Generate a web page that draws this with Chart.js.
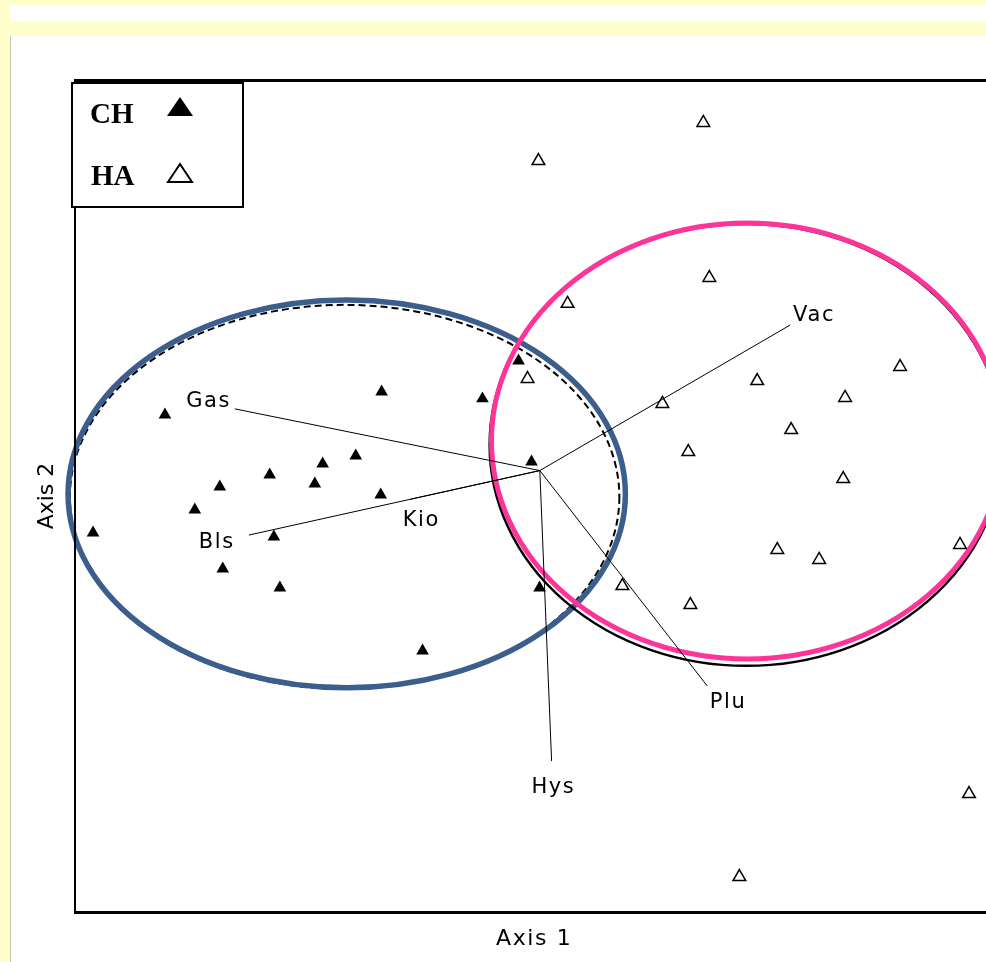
<!DOCTYPE html>
<html>
<head>
<meta charset="utf-8">
<script src="https://cdn.jsdelivr.net/npm/chart.js@4.4.1/dist/chart.umd.min.js"></script>
<style>
html, body { margin:0; padding:0; overflow:hidden; background:#ffffcc; width:986px; height:962px; }
#strip { position:absolute; left:10px; top:5px; right:0; height:16px; background:#fff; }
#panel { position:absolute; left:10px; top:36px; right:0; bottom:0; background:#fff; border-left:1px solid #c8c8b4; }
#wrap { position:absolute; left:0; top:0; width:1010px; height:962px; }
</style>
</head>
<body>
<div id="strip"></div>
<div id="panel"></div>
<div id="wrap"><canvas id="myChart" width="1010" height="962"></canvas></div>
<script>
// sample scores, axis 1 / axis 2
var chX = [-1.621, -0.684, -0.248, -0.092, -0.036, -0.796, -0.939, -1.168, -0.973, -1.384, -0.688, -1.492, -1.932, -1.150, -1.371, -1.124, -0.001, -0.507];
var chY = [0.241, 0.341, 0.311, 0.475, 0.038, 0.064, 0.029, -0.018, -0.057, -0.070, -0.105, -0.170, -0.269, -0.287, -0.425, -0.507, -0.507, -0.780];
var haX = [0.707, -0.006, 0.733, 0.120, -0.053, 0.940, 1.558, 1.320, 0.530, 1.087, 0.642, 1.312, 1.027, 1.208, 1.817, 0.357, 0.651, 1.856, 0.863];
var haY = [1.505, 1.340, 0.834, 0.722, 0.397, 0.388, 0.449, 0.315, 0.289, 0.176, 0.081, -0.036, -0.343, -0.386, -0.321, -0.499, -0.581, -1.399, -1.758];

// species vectors (biplot)
var vecNames = ["Gas", "Bls", "Kio", "Vac", "Plu", "Hys"];
var vecX = [-1.319, -1.258, -0.559, 1.083, 0.724, 0.051];
var vecY = [0.267, -0.279, -0.124, 0.630, -0.932, -1.257];

// group ellipses: centre and half axes
var ellCx = [-0.844, -0.835, 0.893, 0.897];
var ellCy = [-0.114, -0.101, 0.111, 0.128];
var ellRx = [1.188, 1.205, 1.110, 1.106];
var ellRy = [0.831, 0.839, 0.956, 0.943];

var xMin = -2.01, xMax = 1.99, yMin = -1.91, yMax = 1.69;

var ellStyles = [
  {color: "#000", width: 2, dash: [7, 4]},
  {color: "#3b5e8c", width: 5.5, dash: []},
  {color: "#000", width: 2.5, dash: []},
  {color: "#ff3399", width: 5, dash: []}
];
// label placement relative to the vector tip: text centre x, baseline y
var labelShift = [[-27, -2], [-33, 13], [10, 27], [23, -4], [20, 22], [1, 32]];

function toPoints(xs, ys) {
  var pts = [];
  for (let i = 0; i < xs.length; i++) {
    pts.push({x: xs[i], y: ys[i]});
  }
  return pts;
}

var ellipsePlugin = {
  id: "ellipses",
  beforeDatasetsDraw: function(chart) {
    var ctx = chart.ctx, xs = chart.scales.x, ys = chart.scales.y;
    for (let i = 0; i < ellCx.length; i++) {
      var cx = xs.getPixelForValue(ellCx[i]);
      var cy = ys.getPixelForValue(ellCy[i]);
      var rx = xs.getPixelForValue(ellCx[i] + ellRx[i]) - cx;
      var ry = cy - ys.getPixelForValue(ellCy[i] + ellRy[i]);
      ctx.save();
      ctx.strokeStyle = ellStyles[i].color;
      ctx.lineWidth = ellStyles[i].width;
      ctx.setLineDash(ellStyles[i].dash);
      ctx.beginPath();
      ctx.ellipse(cx, cy, rx, ry, 0, 0, Math.PI * 2);
      ctx.stroke();
      ctx.restore();
    }
  }
};

var decorPlugin = {
  id: "decor",
  afterDatasetsDraw: function(chart) {
    var ctx = chart.ctx, xs = chart.scales.x, ys = chart.scales.y;
    var a = chart.chartArea;
    ctx.save();
    ctx.fillStyle = "#000";
    ctx.font = "21px 'DejaVu Sans'";
    ctx.letterSpacing = "1.6px";
    ctx.textAlign = "left";
    ctx.textBaseline = "alphabetic";
    for (let i = 0; i < vecNames.length; i++) {
      var px = xs.getPixelForValue(vecX[i]) + labelShift[i][0];
      var py = ys.getPixelForValue(vecY[i]) + labelShift[i][1];
      var w = ctx.measureText(vecNames[i]).width - 1.6;
      ctx.fillText(vecNames[i], px - w / 2, py);
    }
    ctx.restore();

    // frame: top, bottom and left edges
    ctx.save();
    ctx.strokeStyle = "#000";
    ctx.lineWidth = 3;
    ctx.beginPath();
    ctx.moveTo(a.left - 1, a.top + 0.5);
    ctx.lineTo(a.right + 20, a.top + 0.5);
    ctx.moveTo(a.left - 1, a.bottom + 0.5);
    ctx.lineTo(a.right + 20, a.bottom + 0.5);
    ctx.stroke();
    ctx.lineWidth = 2;
    ctx.beginPath();
    ctx.moveTo(a.left, a.top);
    ctx.lineTo(a.left, a.bottom + 2);
    ctx.stroke();

    // legend box
    ctx.fillStyle = "#fff";
    ctx.fillRect(72, 83, 171, 124);
    ctx.lineWidth = 2;
    ctx.strokeRect(72, 83, 171, 124);
    ctx.fillStyle = "#000";
    ctx.font = "bold 29px 'Liberation Serif'";
    ctx.textAlign = "left";
    ctx.fillText("CH", 90, 123);
    ctx.fillText("HA", 91, 185);
    ctx.beginPath();
    ctx.moveTo(180, 97);
    ctx.lineTo(193, 116);
    ctx.lineTo(167, 116);
    ctx.closePath();
    ctx.fill();
    ctx.lineWidth = 2;
    ctx.beginPath();
    ctx.moveTo(180, 164);
    ctx.lineTo(192, 182);
    ctx.lineTo(168, 182);
    ctx.closePath();
    ctx.stroke();

    // axis titles
    ctx.font = "22px 'DejaVu Sans'";
    ctx.letterSpacing = "1.6px";
    ctx.fillText("Axis 1", 496, 945);
    ctx.letterSpacing = "0px";
    ctx.translate(53, 496);
    ctx.rotate(-Math.PI / 2);
    ctx.textAlign = "center";
    ctx.fillText("Axis 2", 0, 0);
    ctx.restore();
  }
};

var dataset = [
  {
    label: "CH",
    data: toPoints(chX, chY),
    pointStyle: "triangle",
    pointRadius: 7.3,
    backgroundColor: "#000",
    borderColor: "#000",
    borderWidth: 0,
    order: 0
  },
  {
    label: "HA",
    data: toPoints(haX, haY),
    pointStyle: "triangle",
    pointRadius: 7.3,
    backgroundColor: "rgba(0,0,0,0)",
    borderColor: "#000",
    borderWidth: 1.5,
    order: 0
  }
];

for (let i = 0; i < vecNames.length; i++) {
  dataset.push({
    label: vecNames[i],
    data: [{x: 0, y: 0}, {x: vecX[i], y: vecY[i]}],
    showLine: true,
    borderColor: "#000",
    borderWidth: 1,
    pointRadius: 0,
    order: 1
  });
}

var chart = new Chart(document.getElementById("myChart"), {
  type: "scatter",
  data: { datasets: dataset },
  options: {
    responsive: false,
    animation: false,
    layout: { padding: { left: 75, top: 80, right: 10, bottom: 50 } },
    plugins: {
      legend: { display: false },
      tooltip: { enabled: false }
    },
    scales: {
      x: { display: false, min: xMin, max: xMax },
      y: { display: false, min: yMin, max: yMax }
    }
  },
  plugins: [ellipsePlugin, decorPlugin]
});
</script>
</body>
</html>
